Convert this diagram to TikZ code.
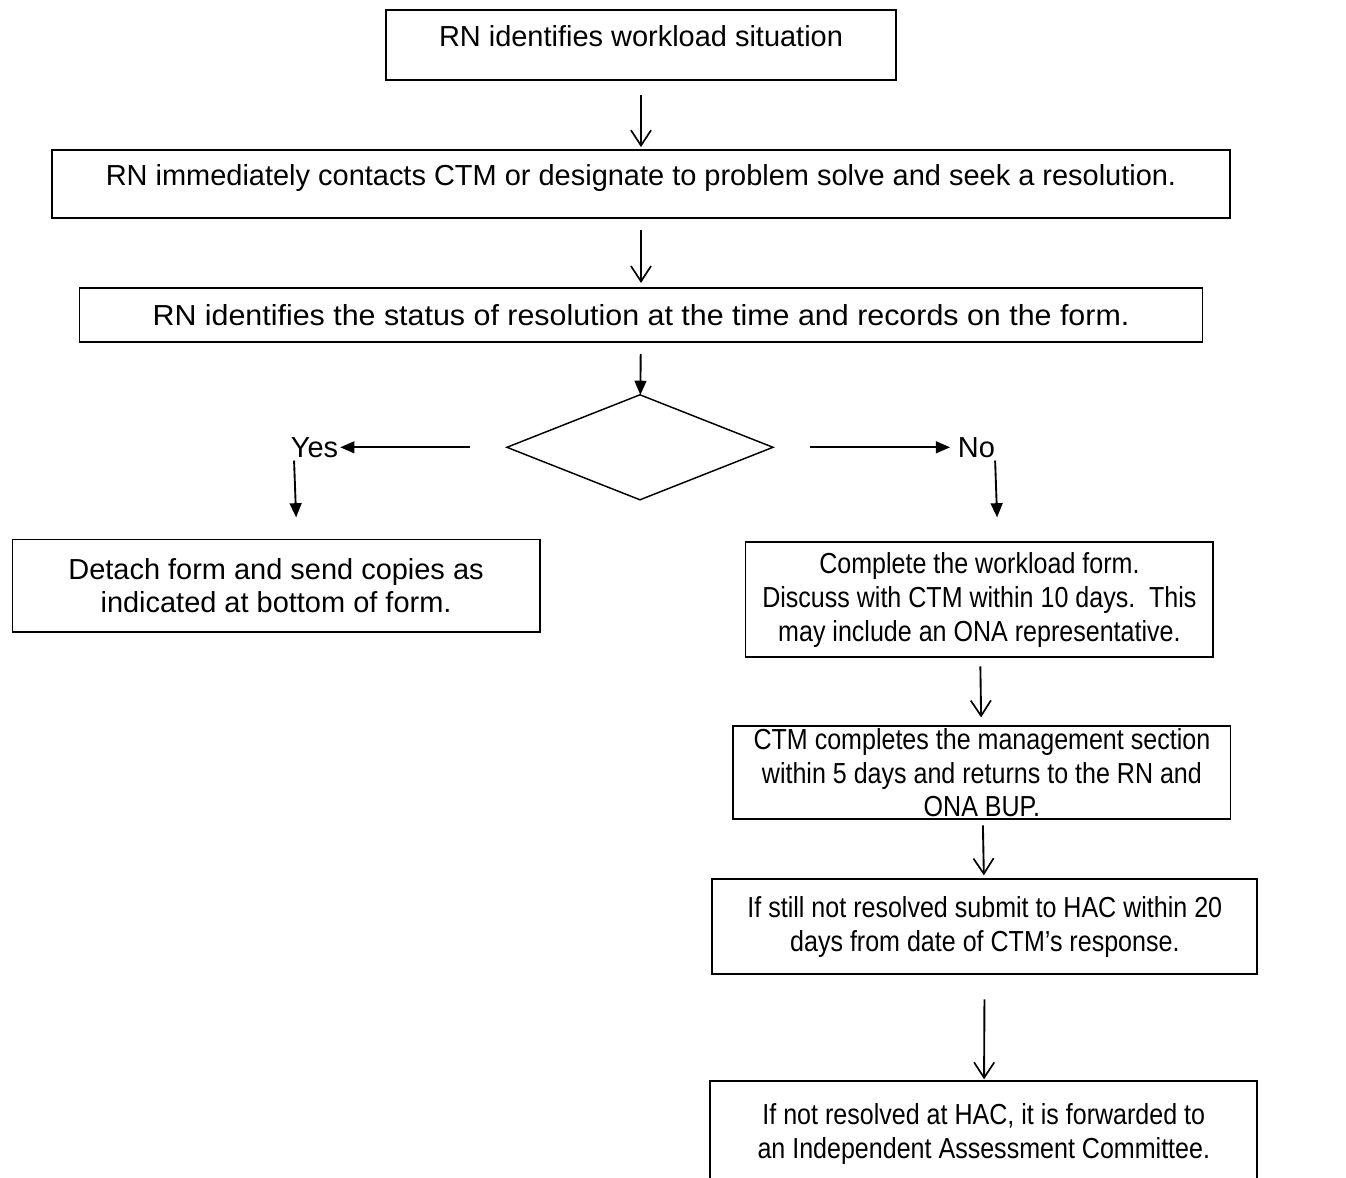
\documentclass[tikz,border=0pt]{standalone}
\usepackage{fontspec}
\setmainfont{Liberation Sans}
\newfontfamily\narrowfont[FakeStretch=0.865]{Liberation Sans}
\newfontfamily\widefont[FakeStretch=1.05]{Liberation Sans}
\usepackage{tikz}
\usetikzlibrary{arrows.meta,positioning,shapes.geometric,calc}
\tikzset{
  stepbox/.style={draw=black, line width=0.9pt, align=center, inner sep=0pt, outer sep=0pt, font=\fontsize{13.9pt}{15.6pt}\selectfont},
  branchbox/.style={stepbox, font=\narrowfont\fontsize{13.9pt}{16.2pt}\selectfont},
  decision/.style={diamond, draw=black, line width=0.7pt, aspect=2.53, minimum width=127.7pt, minimum height=50.4pt, inner sep=0pt, outer sep=0pt},
  answer/.style={inner sep=0pt, outer sep=0pt, font=\fontsize{13.9pt}{15.6pt}\selectfont},
  arrow/.style={-{Straight Barb[length=2.6mm,width=3.4mm,line width=0.8pt]}, line width=0.9pt},
  tip/.style={-{Triangle[length=2.4mm,width=2.0mm]}, line width=0.9pt}
}
\begin{document}
\begin{tikzpicture}[x=0.48pt,y=-0.48pt]
  \useasboundingbox (0,0) rectangle (1346,1178);
  \node[stepbox, minimum width=244.8pt, minimum height=33.6pt, text depth=8.2pt] (identify) at (641,45) {RN identifies workload situation};
  \node[stepbox, minimum width=565.4pt, minimum height=32.6pt, text depth=8.6pt, below=33.6pt of identify] (contact) {RN immediately contacts CTM or designate to problem solve and seek a resolution.};
  \node[stepbox, minimum width=539pt, minimum height=25.9pt, below=33.6pt of contact, font=\widefont\fontsize{13.9pt}{15.6pt}\selectfont] (status) {RN identifies the status of resolution at the time and records on the form.};
  \node[decision, below=25.4pt of status, xshift=-0.5pt] (decide) {};
  \node[answer, left=81pt of decide] (yes) {Yes};
  \node[answer, right=88.8pt of decide] (no) {No};
  \node[stepbox, minimum width=253pt, minimum height=44.2pt, below=39.4pt of yes, xshift=-18.5pt] (detach) {Detach form and send copies as\\indicated at bottom of form.};
  \node[branchbox, minimum width=224.6pt, minimum height=55.2pt, below=40.8pt of no, xshift=1.4pt] (complete) {Complete the workload form.\\Discuss with CTM within 10 days.\ \ This\\may include an ONA representative.};
  \node[branchbox, minimum width=238.6pt, minimum height=44.6pt, below=33.1pt of complete, xshift=1.2pt] (manage) {CTM completes the management section\\within 5 days and returns to the RN and\\ONA BUP.};
  \node[branchbox, minimum width=261.6pt, minimum height=45.6pt, below=28.8pt of manage, xshift=1.4pt] (submit) {If still not resolved submit to HAC within 20\\days from date of CTM’s response.};
  \node[branchbox, minimum width=262.6pt, minimum height=50.4pt, below=51.4pt of submit, xshift=-0.5pt] (forward) {If not resolved at HAC, it is forwarded to\\an Independent Assessment Committee.};

  \draw[arrow, shorten <=7.2pt, shorten >=1.4pt] (identify) -- (contact);
  \draw[arrow, shorten <=5.8pt, shorten >=2.4pt] (contact) -- (status);
  \draw[tip, shorten <=5.8pt] (status) -- (decide);
  \draw[tip, shorten <=17.8pt, shorten >=1pt] (decide) -- (yes);
  \draw[tip, shorten <=17.8pt, shorten >=3.8pt] (decide) -- (no);
  \draw[tip, shorten <=1.5pt, shorten >=10.6pt] ($(yes.south west)+(3,0)$) -- ($(yes.south west |- detach.north)+(6,0)$);
  \draw[tip, shorten <=1.5pt, shorten >=12pt] (no.south east) -- ($(no.south east |- complete.north)+(3,0)$);
  \draw[arrow, shorten <=4.3pt, shorten >=4.3pt] (complete) -- (manage);
  \draw[arrow, shorten <=2.9pt, shorten >=1.9pt] (manage) -- (submit);
  \draw[arrow, shorten <=12pt, shorten >=1pt] (submit) -- (forward);
\end{tikzpicture}
\end{document}
